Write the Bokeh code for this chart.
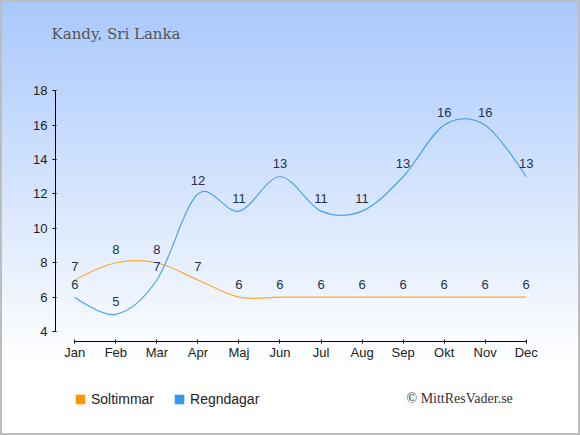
from bokeh.plotting import figure
from bokeh.models import (ColumnDataSource, FixedTicker, Range1d, Legend,
                          LegendItem, Label)
from bokeh.embed import file_html
from bokeh.resources import INLINE
from bokeh.core.properties import value

# ---- data ----
months = ["Jan", "Feb", "Mar", "Apr", "Maj", "Jun", "Jul", "Aug", "Sep", "Okt", "Nov", "Dec"]
soltimmar = [7, 8, 8, 7, 6, 6, 6, 6, 6, 6, 6, 6]
regndagar = [6, 5, 7, 12, 11, 13, 11, 11, 13, 16, 16, 13]
y_ticks = [4, 6, 8, 10, 12, 14, 16, 18]

ORANGE = "#ff9900"
BLUE = "#3399ee"
LABEL_COLOR = "#22324a"


def spline_source(xs, ys, smoothing=2.0):
    """Smooth spline segments (bezier control points) through the data points."""
    n = len(xs)
    lcx, lcy, rcx, rcy = list(xs), list(ys), list(xs), list(ys)
    denom = smoothing + 1
    for i in range(1, n - 1):
        x, y = xs[i], ys[i]
        lx = (smoothing * x + xs[i - 1]) / denom
        ly = (smoothing * y + ys[i - 1]) / denom
        rx = (smoothing * x + xs[i + 1]) / denom
        ry = (smoothing * y + ys[i + 1]) / denom
        corr = (ry - ly) * (rx - x) / (rx - lx) + y - ry
        lcx[i], lcy[i], rcx[i], rcy[i] = lx, ly + corr, rx, ry + corr
    return ColumnDataSource(dict(
        x0=xs[:-1], y0=ys[:-1], x1=xs[1:], y1=ys[1:],
        cx0=rcx[:-1], cy0=rcy[:-1], cx1=lcx[1:], cy1=lcy[1:],
    ))


xs = list(range(len(months)))

# frame: left 55, right 545, top 60, bottom = canvas bottom (435)
p = figure(width=580, height=435, output_backend="svg", toolbar_location=None,
           x_range=Range1d(-0.47, 11.47), y_range=Range1d(-2.043, 19.76),
           min_border_left=55, min_border_right=35, min_border_top=60,
           min_border_bottom=0)
p.background_fill_alpha = 0
p.border_fill_alpha = 0
p.outline_line_color = None
p.styles = {
    "background": "linear-gradient(to bottom, #a8c8fc 0%, #ffffff 84%)",
    "outline": "2px solid #bdbdbd",
    "outline-offset": "-2px",
}
p.xgrid.visible = False
p.ygrid.visible = False

# title
p.title.text = "Kandy, Sri Lanka"
p.title.text_font = "DejaVu Serif"
p.title.text_font_size = "15px"
p.title.text_font_style = "normal"
p.title.text_color = "#555555"
p.title.align = "left"
p.title.offset = -4
p.title.standoff = 36

# axes
p.xaxis.ticker = FixedTicker(ticks=xs)
p.xaxis.major_label_overrides = {i: m for i, m in enumerate(months)}
p.xaxis.bounds = (0, len(months) - 1)
p.xaxis.fixed_location = 3.419
p.yaxis.ticker = FixedTicker(ticks=y_ticks)
p.yaxis.bounds = (y_ticks[0], y_ticks[-1])
for ax in (p.xaxis, p.yaxis):
    ax.axis_line_color = "#000000"
    ax.major_tick_line_color = "#000000"
    ax.minor_tick_line_color = None
    ax.major_label_text_font = "Liberation Sans"
    ax.major_label_text_font_size = "13px"
    ax.major_label_text_color = "#222222"
p.xaxis.major_tick_in = 2
p.xaxis.major_tick_out = 2
p.xaxis.major_label_standoff = 1
p.yaxis.major_tick_in = 1
p.yaxis.major_tick_out = 3
p.yaxis.major_label_standoff = 5

# lines
for vals, col in ((soltimmar, "#ffa733"), (regndagar, "#4aa3f0")):
    src = spline_source(xs, vals)
    p.bezier(x0="x0", y0="y0", x1="x1", y1="y1", cx0="cx0", cy0="cy0",
             cx1="cx1", cy1="cy1", source=src, line_color=col, line_width=1.2)

# data labels
for vals in (soltimmar, regndagar):
    lsrc = ColumnDataSource(dict(x=xs, y=vals, t=[str(v) for v in vals]))
    p.text(x="x", y="y", text="t", source=lsrc, text_align="center",
           text_baseline="alphabetic", y_offset=-13,
           text_font=value("Liberation Sans"), text_font_size="13px",
           text_color=LABEL_COLOR)

# legend proxies: zero-height quads on the series (invisible), square swatches
legend_renderers = []
for vals, col in ((soltimmar, ORANGE), (regndagar, BLUE)):
    qsrc = ColumnDataSource(dict(l=xs, r=xs, t=vals, b=vals))
    r = p.quad(left="l", right="r", top="t", bottom="b", source=qsrc,
               fill_color=col, line_color=None)
    legend_renderers.append(r)

legend = Legend(items=[LegendItem(label="Soltimmar", renderers=[legend_renderers[0]]),
                       LegendItem(label="Regndagar", renderers=[legend_renderers[1]])],
                location=(19, 28), orientation="horizontal",
                glyph_width=12, glyph_height=12, label_standoff=5, spacing=19,
                padding=0, margin=0, border_line_color=None,
                background_fill_alpha=0, label_text_font="Liberation Sans",
                label_text_font_size="14px", label_text_color="#222222")
p.add_layout(legend)

p.add_layout(Label(x=406, y=398, x_units="canvas", y_units="canvas",
                   text="© MittResVader.se", text_font="Liberation Serif",
                   text_font_size="14px", text_color="#333333",
                   text_baseline="middle"))

open("out.html", "w").write(file_html(p, INLINE))
